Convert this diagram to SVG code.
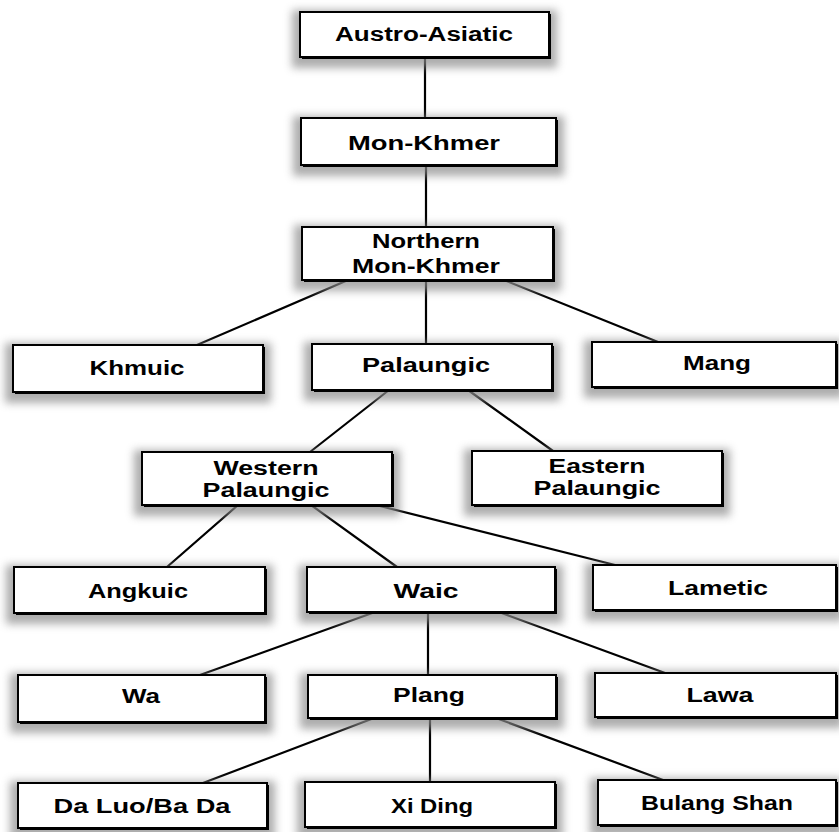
<svg xmlns="http://www.w3.org/2000/svg" width="839" height="832" viewBox="0 0 839 832">
<style>
.box{fill:#fff;stroke:#000;stroke-width:2}
.sh{fill:#000}
.halo{fill:#8a8a8a;opacity:0.7;filter:url(#blur)}
.lbl{font-family:"Liberation Sans",Arial,sans-serif;font-weight:bold;font-size:20px;fill:#000;text-anchor:middle}
.con line{stroke:#000;stroke-width:2.2;stroke-linecap:round}
</style>
<defs>
<filter id="blur" x="-20%" y="-50%" width="140%" height="200%"><feGaussianBlur stdDeviation="4"/></filter>
</defs>
<rect width="839" height="832" fill="#fff"/>
<g class="con" id="connectors">
<line x1="425" y1="57" x2="425" y2="118"/>
<line x1="426" y1="165" x2="426" y2="227"/>
<line x1="348" y1="280" x2="197" y2="345"/>
<line x1="426" y1="280" x2="426" y2="344"/>
<line x1="504" y1="280" x2="658" y2="342"/>
<line x1="389" y1="390" x2="310" y2="452"/>
<line x1="468" y1="390" x2="553" y2="451"/>
<line x1="238" y1="505" x2="167" y2="567"/>
<line x1="311" y1="505" x2="397" y2="567"/>
<line x1="376" y1="505" x2="615" y2="565"/>
<line x1="375" y1="612" x2="200" y2="675"/>
<line x1="428" y1="612" x2="428" y2="675"/>
<line x1="499" y1="612" x2="665" y2="673"/>
<line x1="374" y1="718" x2="203" y2="783"/>
<line x1="430" y1="718" x2="430" y2="782"/>
<line x1="496" y1="718" x2="663" y2="780"/>
</g>
<g id="austro-asiatic"><rect class="halo" x="292" y="10" width="265" height="58"/><rect class="sh" x="302" y="14" width="249" height="45"/><rect class="box" x="300" y="12" width="249" height="45"/><text class="lbl" x="424" y="41" textLength="178" lengthAdjust="spacingAndGlyphs">Austro-Asiatic</text></g>
<g id="mon-khmer"><rect class="halo" x="293" y="116" width="271" height="60"/><rect class="sh" x="303" y="120" width="255" height="47"/><rect class="box" x="301" y="118" width="255" height="47"/><text class="lbl" x="424" y="150" textLength="152" lengthAdjust="spacingAndGlyphs">Mon-Khmer</text></g>
<g id="northern-mon-khmer"><rect class="halo" x="294" y="225" width="267" height="66"/><rect class="sh" x="304" y="229" width="251" height="53"/><rect class="box" x="302" y="227" width="251" height="53"/><text class="lbl" x="426" y="248" textLength="108" lengthAdjust="spacingAndGlyphs">Northern</text><text class="lbl" x="426" y="273" textLength="148" lengthAdjust="spacingAndGlyphs">Mon-Khmer</text></g>
<g id="khmuic"><rect class="halo" x="5" y="343" width="266" height="60"/><rect class="sh" x="15" y="347" width="250" height="47"/><rect class="box" x="13" y="345" width="250" height="47"/><text class="lbl" x="137" y="375" textLength="95" lengthAdjust="spacingAndGlyphs">Khmuic</text></g>
<g id="palaungic"><rect class="halo" x="304" y="342" width="256" height="59"/><rect class="sh" x="314" y="346" width="240" height="46"/><rect class="box" x="312" y="344" width="240" height="46"/><text class="lbl" x="426" y="372" textLength="128" lengthAdjust="spacingAndGlyphs">Palaungic</text></g>
<g id="mang"><rect class="halo" x="584" y="340" width="260" height="58"/><rect class="sh" x="594" y="344" width="244" height="45"/><rect class="box" x="592" y="342" width="244" height="45"/><text class="lbl" x="717" y="370" textLength="68" lengthAdjust="spacingAndGlyphs">Mang</text></g>
<g id="western-palaungic"><rect class="halo" x="134" y="450" width="266" height="66"/><rect class="sh" x="144" y="454" width="250" height="53"/><rect class="box" x="142" y="452" width="250" height="53"/><text class="lbl" x="266" y="475" textLength="105" lengthAdjust="spacingAndGlyphs">Western</text><text class="lbl" x="266" y="497" textLength="127" lengthAdjust="spacingAndGlyphs">Palaungic</text></g>
<g id="eastern-palaungic"><rect class="halo" x="464" y="449" width="266" height="67"/><rect class="sh" x="474" y="453" width="250" height="54"/><rect class="box" x="472" y="451" width="250" height="54"/><text class="lbl" x="597" y="473" textLength="97" lengthAdjust="spacingAndGlyphs">Eastern</text><text class="lbl" x="597" y="495" textLength="127" lengthAdjust="spacingAndGlyphs">Palaungic</text></g>
<g id="angkuic"><rect class="halo" x="6" y="565" width="267" height="59"/><rect class="sh" x="16" y="569" width="251" height="46"/><rect class="box" x="14" y="567" width="251" height="46"/><text class="lbl" x="138" y="598" textLength="100" lengthAdjust="spacingAndGlyphs">Angkuic</text></g>
<g id="waic"><rect class="halo" x="299" y="565" width="264" height="58"/><rect class="sh" x="309" y="569" width="248" height="45"/><rect class="box" x="307" y="567" width="248" height="45"/><text class="lbl" x="426" y="598" textLength="65" lengthAdjust="spacingAndGlyphs">Waic</text></g>
<g id="lametic"><rect class="halo" x="585" y="563" width="258" height="58"/><rect class="sh" x="595" y="567" width="243" height="45"/><rect class="box" x="593" y="565" width="243" height="45"/><text class="lbl" x="718" y="595" textLength="100" lengthAdjust="spacingAndGlyphs">Lametic</text></g>
<g id="wa"><rect class="halo" x="10" y="673" width="263" height="60"/><rect class="sh" x="20" y="677" width="247" height="47"/><rect class="box" x="18" y="675" width="247" height="47"/><text class="lbl" x="141" y="703" textLength="38" lengthAdjust="spacingAndGlyphs">Wa</text></g>
<g id="plang"><rect class="halo" x="300" y="673" width="264" height="56"/><rect class="sh" x="310" y="677" width="248" height="43"/><rect class="box" x="308" y="675" width="248" height="43"/><text class="lbl" x="429" y="702" textLength="72" lengthAdjust="spacingAndGlyphs">Plang</text></g>
<g id="lawa"><rect class="halo" x="587" y="671" width="256" height="57"/><rect class="sh" x="597" y="675" width="241" height="44"/><rect class="box" x="595" y="673" width="241" height="44"/><text class="lbl" x="720" y="702" textLength="67" lengthAdjust="spacingAndGlyphs">Lawa</text></g>
<g id="da-luo-ba-da"><rect class="halo" x="10" y="781" width="265" height="59"/><rect class="sh" x="20" y="785" width="249" height="45"/><rect class="box" x="18" y="783" width="249" height="45"/><text class="lbl" x="142" y="813" textLength="177" lengthAdjust="spacingAndGlyphs">Da Luo/Ba Da</text></g>
<g id="xi-ding"><rect class="halo" x="297" y="780" width="266" height="59"/><rect class="sh" x="307" y="784" width="250" height="45"/><rect class="box" x="305" y="782" width="250" height="45"/><text class="lbl" x="432" y="813" textLength="82" lengthAdjust="spacingAndGlyphs">Xi Ding</text></g>
<g id="bulang-shan"><rect class="halo" x="590" y="778" width="253" height="59"/><rect class="sh" x="600" y="782" width="238" height="45"/><rect class="box" x="598" y="780" width="238" height="45"/><text class="lbl" x="717" y="810" textLength="152" lengthAdjust="spacingAndGlyphs">Bulang Shan</text></g>
</svg>
